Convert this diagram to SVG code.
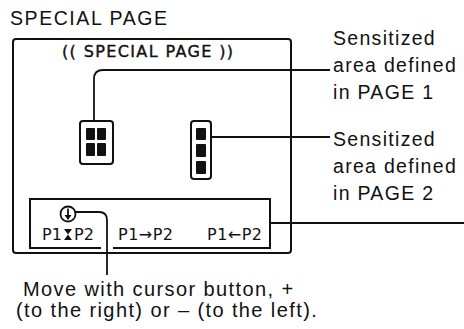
<svg xmlns="http://www.w3.org/2000/svg" width="464" height="329" viewBox="0 0 464 329">
<style>
.t{font-family:"Liberation Sans",Arial,sans-serif;fill:#111}
.lbl{font-size:19.5px;letter-spacing:1.3px}
.bot{font-size:20px;letter-spacing:1.4px}
.opt{font-family:"DejaVu Sans",sans-serif;font-size:16px;fill:#111}
.ln{fill:none;stroke:#111;stroke-width:1.8}
.bx{fill:none;stroke:#111;stroke-width:2}
.cell{fill:#111}
</style>
<rect width="464" height="329" fill="#fff"/>
<text class="t" x="10" y="25" font-size="19.5" textLength="157" lengthAdjust="spacing">SPECIAL PAGE</text>
<g id="screen">
<rect class="bx" x="13" y="39" width="278" height="214" rx="3"/>
<text class="opt" x="62" y="57" font-size="12.5" stroke="#111" stroke-width="0.4" textLength="171" lengthAdjust="spacing">(( SPECIAL PAGE ))</text>
</g>
<g id="area1">
<rect class="bx" x="80" y="121" width="33" height="43" rx="3"/>
<rect class="cell" x="86" y="128" width="9" height="12" rx="1"/>
<rect class="cell" x="97" y="128" width="9" height="12" rx="1"/>
<rect class="cell" x="86" y="143" width="9" height="13" rx="1"/>
<rect class="cell" x="97" y="143" width="9" height="13" rx="1"/>
</g>
<g id="area2">
<rect class="bx" x="191" y="121" width="20" height="58" rx="3"/>
<rect class="cell" x="196" y="128" width="10" height="12" rx="1"/>
<rect class="cell" x="196" y="144" width="10" height="13" rx="1"/>
<rect class="cell" x="196" y="161" width="10" height="13" rx="1"/>
</g>
<g id="menu">
<path class="bx" d="M101,248 H30 V199 H270 V248 H113"/>
<text class="opt" x="42" y="240">P1</text>
<text class="opt" x="74" y="240">P2</text>
<path class="cell" d="M64,229 H72 L68,234.5 Z M64,240 H72 L68,234.5 Z"/>
<text class="opt" x="118" y="240" textLength="55" lengthAdjust="spacing">P1→P2</text>
<text class="opt" x="207" y="240" textLength="55" lengthAdjust="spacing">P1←P2</text>
</g>
<g id="cursor">
<circle class="ln" cx="68" cy="214" r="7.5"/>
<path class="ln" d="M68,208.5 V219"/>
<path class="cell" d="M64.5,215 H71.5 L68,220 Z"/>
</g>
<g id="connectors">
<path class="ln" d="M94,121 V79 Q94,70 103,70 H330"/>
<path class="ln" d="M211,137 H330"/>
<path class="ln" d="M270,223 H464"/>
<path class="ln" d="M75,212 H99 Q107,212 107,220 V275"/>
</g>
<g id="labels">
<text class="t lbl" x="333" y="45">Sensitized</text>
<text class="t lbl" x="333" y="72">area defined</text>
<text class="t lbl" x="333" y="99">in PAGE 1</text>
<text class="t lbl" x="333" y="146">Sensitized</text>
<text class="t lbl" x="333" y="173">area defined</text>
<text class="t lbl" x="333" y="200">in PAGE 2</text>
<text class="t bot" x="23" y="296">Move with cursor button, +</text>
<text class="t bot" x="16" y="317">(to the right) or – (to the left).</text>
</g>
</svg>
